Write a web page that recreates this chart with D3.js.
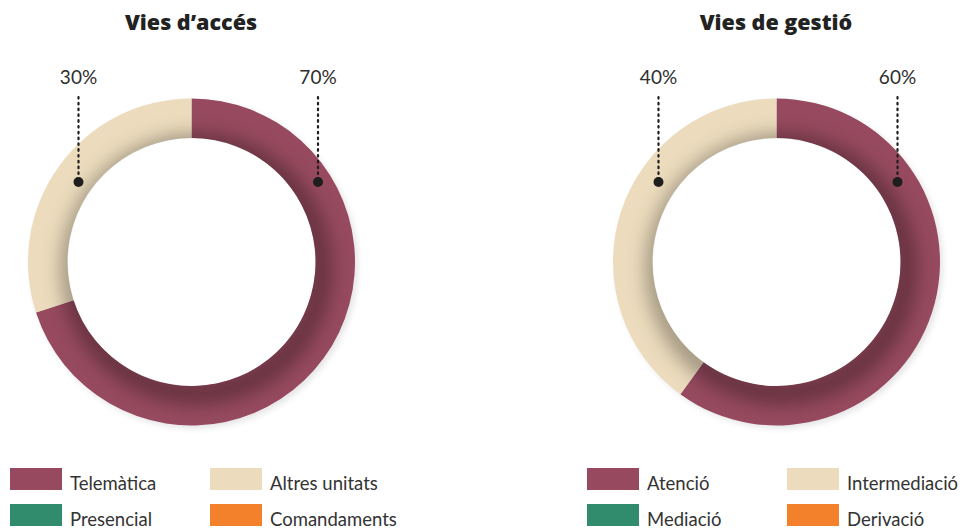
<!DOCTYPE html>
<html><head><meta charset="utf-8">
<script src="https://cdn.jsdelivr.net/npm/d3@7"></script>
<style>
html,body{margin:0;padding:0;background:#fff;}
svg{display:block;}
</style></head>
<body>
<svg id="chart" width="965" height="529"></svg>
<script>
// ---- data ----
const chartTitles = ["Vies d’accés", "Vies de gestió"];
const accesCategories = ["Telemàtica", "Altres unitats"];
const accesValues = [70, 30];
const gestioCategories = ["Atenció", "Intermediació"];
const gestioValues = [60, 40];
const accesLegend = ["Telemàtica", "Altres unitats", "Presencial", "Comandaments"];
const gestioLegend = ["Atenció", "Intermediació", "Mediació", "Derivació"];
const palette = ["#974a5f", "#ecdcbd", "#318c6e", "#f3812c"];

// ---- layout ----
const svg = d3.select("#chart");
const outerR = 163.5, innerR = 124;
const layouts = [
  {cx: 191.5, cy: 262, titleX: 191, dotDx: [126.5, -113], legendX: 10},
  {cx: 776.5, cy: 262, titleX: 776, dotDx: [121, -118], legendX: 587}
];
const datasets = [
  {title: chartTitles[0], cats: accesCategories, vals: accesValues, legend: accesLegend},
  {title: chartTitles[1], cats: gestioCategories, vals: gestioValues, legend: gestioLegend}
];

const defs = svg.append("defs");
defs.append("filter").attr("id", "blurIn")
  .attr("x", "-50%").attr("y", "-50%").attr("width", "200%").attr("height", "200%")
  .append("feGaussianBlur").attr("stdDeviation", 10);
defs.append("filter").attr("id", "blurOut")
  .attr("x", "-50%").attr("y", "-50%").attr("width", "200%").attr("height", "200%")
  .append("feGaussianBlur").attr("stdDeviation", 3);

const pie = d3.pie().sort(null).value(d => d).startAngle(0).endAngle(2 * Math.PI);
const arc = d3.arc().innerRadius(innerR).outerRadius(outerR);
const ringArc = d3.arc().innerRadius(innerR).outerRadius(outerR).startAngle(0).endAngle(2 * Math.PI);
const color = d3.scaleOrdinal().domain(d3.range(4)).range(palette);

datasets.forEach((ds, k) => {
  const L = layouts[k];
  const g = svg.append("g").attr("transform", `translate(${L.cx},${L.cy})`);

  // soft outer shadow (ring-shaped, so the hole stays white)
  g.append("path").attr("d", ringArc()).attr("transform", "translate(3,3)")
    .attr("fill", "#000").attr("opacity", 0.10).attr("filter", "url(#blurOut)");

  const arcs = pie(ds.vals);
  g.selectAll("path.slice").data(arcs).join("path")
    .attr("class", "slice")
    .attr("d", arc)
    .attr("fill", (d, i) => color(i));

  // white hole on top of any shadow spill
  g.append("circle").attr("r", innerR - 0.5).attr("fill", "#fff");

  // inner shadow cast by the hole onto the ring
  const clipId = "ringClip" + k;
  defs.append("clipPath").attr("id", clipId).append("path").attr("d", ringArc());
  g.append("g").attr("clip-path", `url(#${clipId})`)
    .append("circle")
    .attr("cx", 5).attr("cy", 7).attr("r", innerR)
    .attr("fill", "none").attr("stroke", "#000").attr("stroke-width", 20)
    .attr("stroke-opacity", 0.38).attr("filter", "url(#blurIn)");

  // title
  svg.append("text").attr("x", L.titleX).attr("y", 30)
    .attr("text-anchor", "middle")
    .style("font-family", "'Open Sans', sans-serif").style("font-weight", 800)
    .style("font-size", "21.5px").style("fill", "#222")
    .text(ds.title);

  // percent annotations
  const total = d3.sum(ds.vals);
  arcs.forEach((a, i) => {
    const x = L.cx + L.dotDx[i];
    const yDot = L.cy - 80;
    svg.append("line").attr("x1", x).attr("x2", x).attr("y1", 97).attr("y2", yDot)
      .attr("stroke", "#1e1e1e").attr("stroke-width", 2.2)
      .attr("stroke-dasharray", "1.6,4.2").attr("stroke-linecap", "round");
    svg.append("circle").attr("cx", x).attr("cy", yDot).attr("r", 5).attr("fill", "#1e1e1e");
    svg.append("text").attr("x", x).attr("y", 84).attr("text-anchor", "middle")
      .style("font-family", "Lato, sans-serif").style("font-weight", 400)
      .style("font-size", "19px").style("fill", "#2e2e2e")
      .text(Math.round(a.data / total * 100) + "%");
  });

  // legend
  const lg = svg.append("g").attr("transform", `translate(${L.legendX},468)`);
  ds.legend.forEach((name, i) => {
    const col = i % 2, row = Math.floor(i / 2);
    const item = lg.append("g").attr("transform", `translate(${col * 200},${row * 36})`);
    item.append("rect").attr("width", 52).attr("height", 22).attr("fill", color(i));
    item.append("text").attr("x", 60).attr("y", 22)
      .style("font-family", "Lato, sans-serif").style("font-weight", 400)
      .style("font-size", "18.5px").style("fill", "#333")
      .text(name);
  });
});
</script>
</body></html>
